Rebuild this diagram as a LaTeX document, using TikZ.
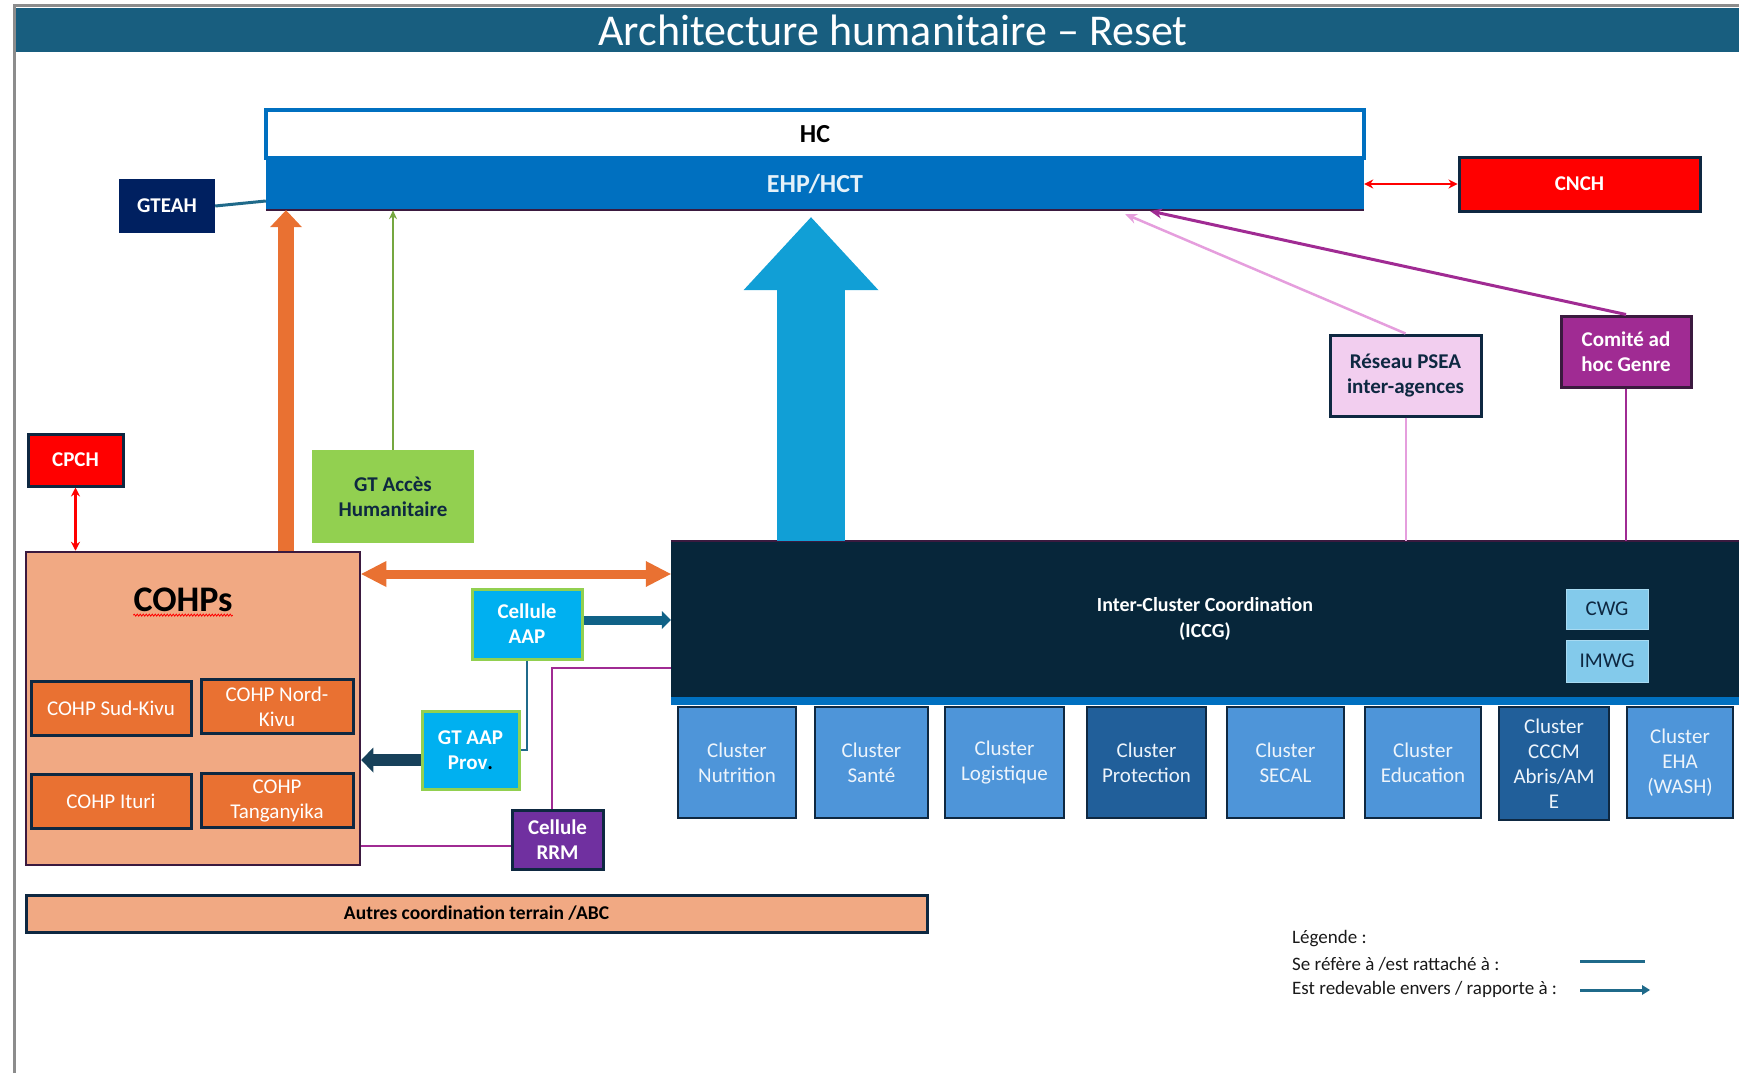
\documentclass[tikz,border=0pt]{standalone}
\usepackage{fontspec}
\setmainfont{Carlito}
\usetikzlibrary{arrows.meta,decorations.pathmorphing}
\definecolor{titlebar}{HTML}{185E7F}
\definecolor{hcblue}{HTML}{0070C0}
\definecolor{navy}{HTML}{0E2841}
\definecolor{darkpurple}{HTML}{3B1A3F}
\definecolor{cohporange}{HTML}{E97132}
\definecolor{salmon}{HTML}{F1A983}
\definecolor{iccgdark}{HTML}{07263A}
\definecolor{clusterlight}{HTML}{4E95D9}
\definecolor{clusterdark}{HTML}{215F9A}
\definecolor{wgblue}{HTML}{83CAEB}
\definecolor{cyanbox}{HTML}{00B0F0}
\definecolor{limegreen}{HTML}{92D050}
\definecolor{rrmpurple}{HTML}{7030A0}
\definecolor{pseapink}{HTML}{F2CEEF}
\definecolor{pinkline}{HTML}{E59EDD}
\definecolor{genrepurple}{HTML}{A02B93}
\definecolor{bigarrow}{HTML}{119FD6}
\definecolor{linkteal}{HTML}{1F6A8A}
\definecolor{fatteal}{HTML}{17415A}
\definecolor{gteahblue}{HTML}{002060}
\definecolor{framegray}{HTML}{8C8C8C}
\begin{document}
\begin{tikzpicture}[x=1pt, y=-1pt,
        box/.style = {rectangle, align=center, inner sep=0pt, font=\fontsize{21}{25}\selectfont},
        boldbox/.style = {box, font=\fontsize{21}{25}\selectfont\bfseries},
        cohp/.style = {box, fill=cohporange, draw=navy, line width=3pt, text=white, minimum height=54pt},
        cluster/.style = {box, fill=clusterlight, draw=navy, line width=1.5pt, text=white!90!clusterlight, minimum height=111pt},
        wg/.style = {box, fill=wgblue, draw=wgblue!70!white, line width=1pt, text=navy, minimum width=82pt},
        cyan/.style = {boldbox, fill=cyanbox, draw=limegreen, line width=3pt, text=white},
        redbox/.style = {boldbox, fill=red, draw=navy, line width=3pt, text=white},
        legend/.style = {anchor=west, inner sep=0pt, font=\fontsize{19}{22}\selectfont, text=black!90},
        redlink/.style = {red, line width=2.5pt, {Stealth[length=9pt 0 0, width=9pt 0 0]}-{Stealth[length=9pt 0 0, width=9pt 0 0]}},
        fat/.style = {line width=#1, line cap=butt}
    ]
        \useasboundingbox (0,0) rectangle (1739,1073);
        % frame and title
        \fill[titlebar] (16,8) rectangle (1739,52);
        \draw[framegray, line width=3pt] (14,1073) -- (14,6) -- (1739,6);
        \node[text=white, font=\fontsize{44}{50}\selectfont] (title) at (893,30) {Architecture humanitaire -- Reset};

        % HC / EHP
        \node[box, fill=hcblue, minimum width=1098pt, minimum height=52pt, text=white!90!hcblue,
              font=\fontsize{26}{30}\selectfont\bfseries] (ehp) at (815,184) {EHP/HCT};
        \node[box, fill=white, draw=hcblue, line width=4pt, minimum width=1098pt, minimum height=48pt,
              font=\fontsize{26}{30}\selectfont\bfseries] (hc) at (815,134) {HC};
        \draw[darkpurple, line width=2pt] (ehp.south west) -- (ehp.south east);

        \node[redbox, minimum width=241pt, minimum height=54pt] (cnch) at (1579.5,184) {CNCH};
        \node[boldbox, fill=gteahblue, text=white, minimum width=96pt, minimum height=54pt] (gteah) at (167,206) {GTEAH};
        \node[redbox, minimum width=95pt, minimum height=52pt] (cpch) at (75.5,460) {CPCH};
        \node[boldbox, fill=limegreen, text=navy, minimum width=162pt, minimum height=93pt] (gtacces) at (393,496.5) {GT Accès\\Humanitaire};

        % COHPs
        \node[box, fill=salmon, draw=darkpurple, line width=2.5pt, minimum width=334pt, minimum height=313pt] (cohps) at (193,708.5) {};
        \node[inner sep=0pt, font=\fontsize{36}{40}\selectfont\bfseries] (cohpstitle) at (183,600) {COHPs};
        \draw[red, line width=0.8pt, decorate, decoration={snake, amplitude=1pt, segment length=3pt}]
            ([yshift=-3pt]cohpstitle.south west) -- ([yshift=-3pt]cohpstitle.south east);
        \node[cohp, minimum width=160pt] (sudkivu) at (111,708) {COHP Sud-Kivu};
        \node[cohp, minimum width=152pt] (nordkivu) at (277,706.5) {COHP Nord-\\Kivu};
        \node[cohp, minimum width=160pt] (ituri) at (111,801) {COHP Ituri};
        \node[cohp, minimum width=152pt] (tanganyika) at (277,800.5) {COHP\\Tanganyika};

        \node[cyan, minimum width=110pt, minimum height=70pt] (aap) at (527,624) {Cellule\\AAP};
        \node[cyan, minimum width=97pt, minimum height=78pt] (gtaap) at (470.5,750) {GT AAP\\Prov{\color{black}.}};
        \node[boldbox, fill=rrmpurple, draw=navy, line width=3pt, text=white, minimum width=91pt, minimum height=59pt] (rrm) at (557.5,839.5) {Cellule\\RRM};

        \node[boldbox, fill=salmon, draw=navy, line width=3pt, minimum width=901pt, minimum height=37pt,
              font=\fontsize{19.5}{22}\selectfont\bfseries] (autres) at (476.5,913.5) {Autres coordination terrain /ABC};

        % ICCG and clusters
        \node[box, fill=iccgdark, minimum width=1068pt, minimum height=156pt, text=white,
              font=\fontsize{20}{26}\selectfont\bfseries] (iccg) at (1205,619) {Inter-Cluster Coordination\\(ICCG)};
        \draw[darkpurple, line width=2pt] (iccg.north west) -- (iccg.north east);
        \fill[hcblue] (iccg.south west) rectangle ([yshift=-8pt]iccg.south east);
        \node[wg, minimum height=40pt] (cwg) at (1607,609) {CWG};
        \node[wg, minimum height=42pt] (imwg) at (1607,661) {IMWG};

        \node[cluster, minimum width=118pt] (nutrition) at (737,762.5) {Cluster\\Nutrition};
        \node[cluster, minimum width=113pt] (sante) at (871.5,762.5) {Cluster\\Santé};
        \node[cluster, minimum width=119pt] (logistique) at (1004.5,762.5) {Cluster\\Logistique};
        \node[cluster, fill=clusterdark, minimum width=119pt] (protection) at (1146.5,762.5) {Cluster\\Protection};
        \node[cluster, minimum width=117pt] (secal) at (1285.5,762.5) {Cluster\\SECAL};
        \node[cluster, minimum width=116pt] (education) at (1423,762.5) {Cluster\\Education};
        \node[cluster, fill=clusterdark, minimum width=110pt, minimum height=113pt] (cccm) at (1554,763.5) {Cluster\\CCCM\\Abris/AM\\E};
        \node[cluster, minimum width=106pt] (eha) at (1680,762.5) {Cluster\\EHA\\(WASH)};

        \node[boldbox, fill=pseapink, draw=navy, line width=3pt, text=navy, minimum width=151pt, minimum height=81pt] (psea) at (1405.5,375.5) {Réseau PSEA\\inter-agences};
        \node[boldbox, fill=genrepurple, draw=darkpurple, line width=3pt, text=white, minimum width=130pt, minimum height=71pt] (genre) at (1626,351.5) {Comité ad\\hoc Genre};

        % connectors
        \draw[redlink] (ehp.east) -- (cnch.west);
        \draw[redlink] (cpch.south) -- (cpch.south |- cohps.north);
        \draw[linkteal, line width=3pt] (gteah.east |- 0,206) -- (ehp.west |- 0,201);
        \draw[cohporange, fat=16pt, -{Triangle[width=32pt 0 0, length=17pt 0 0, line width=0pt 0 0]}]
            (cohps.north -| 286,0) -- (ehp.south -| 286,0);
        \draw[limegreen!80!black, line width=1.5pt, -{Stealth[length=9pt 0 0, width=8pt 0 0]}] (gtacces.north) -- (gtacces.north |- ehp.south);
        \draw[bigarrow, fat=68pt, shorten >=7pt, -{Triangle[width=135pt 0 0, length=73pt 0 0, line width=0pt 0 0]}]
            (iccg.north -| 811,0) -- (ehp.south -| 811,0);
        \draw[cohporange, fat=9pt, {Triangle[width=26pt 0 0, length=25pt 0 0, line width=0pt 0 0]}-{Triangle[width=26pt 0 0, length=25pt 0 0, line width=0pt 0 0]}]
            (cohps.east |- 0,574) -- (iccg.west |- 0,574);
        \draw[fatteal!70!cyanbox, fat=9pt, -{Triangle[width=18pt 0 0, length=9pt 0 0, line width=0pt 0 0]}]
            (aap.east |- 0,620) -- (iccg.west |- 0,620);
        \draw[linkteal, line width=2.5pt] (aap.south) |- (gtaap.east);
        \draw[fatteal, fat=12pt, -{Triangle[width=25pt 0 0, length=12pt 0 0, line width=0pt 0 0]}]
            (gtaap.west |- 0,760) -- (cohps.east |- 0,760);
        \draw[genrepurple, line width=2.5pt] (rrm.north -| 552,0) |- (iccg.west |- 0,668);
        \draw[genrepurple, line width=2.5pt] (rrm.west |- 0,846) -- (cohps.east |- 0,846);
        \draw[pinkline, line width=2.5pt, -{Stealth[length=12pt 0 0, width=10pt 0 0]}] (psea.north) -- (1125,214);
        \draw[genrepurple, line width=3pt, -{Stealth[length=12pt 0 0, width=10pt 0 0]}] (genre.north) -- (1150,211);
        \draw[pinkline, line width=2pt] (psea.south) -- (psea.south |- iccg.north);
        \draw[genrepurple, line width=2.5pt] (genre.south) -- (genre.south |- iccg.north);

        % legend
        \node[legend] (leg) at (1292,939) {Légende :};
        \node[legend] (legref) at (1292,964) {Se réfère à /est rattaché à :};
        \node[legend] (legrep) at (1292,989) {Est redevable envers / rapporte à :};
        \coordinate (refa) at (1580,961);
        \coordinate (refb) at (1645,961);
        \coordinate (repa) at (1580,990);
        \coordinate (repb) at (1650,990);
        \draw[linkteal, line width=3pt] (refa) -- (refb);
        \draw[linkteal, line width=3pt, -{Triangle[width=10pt 0 0, length=8pt 0 0, line width=0pt 0 0]}] (repa) -- (repb);
    \end{tikzpicture}
\end{document}
